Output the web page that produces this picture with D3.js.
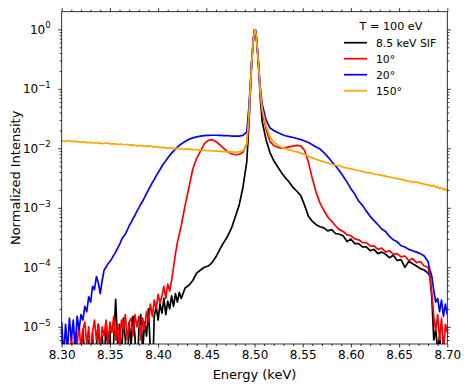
<!DOCTYPE html>
<html>
<head>
<meta charset="utf-8">
<script src="https://cdn.jsdelivr.net/npm/d3@7"></script>
<style>
  body { margin: 0; background: #fff; }
  svg { display: block; font-family: "DejaVu Sans", sans-serif; }
</style>
</head>
<body>
<svg id="chart" width="469" height="389"></svg>
<script>
// energy grid (keV) shared by all spectra, finer where the data is noisy
const energy = [
  8.300,8.302,8.304,8.306,8.308,8.310,8.312,8.314,8.316,8.318,
  8.320,8.322,8.324,8.326,8.328,8.330,8.332,8.334,8.336,8.338,
  8.340,8.342,8.344,8.346,8.348,8.350,8.352,8.354,8.356,8.358,
  8.360,8.362,8.364,8.366,8.368,8.370,8.372,8.374,8.376,8.378,
  8.380,8.382,8.384,8.386,8.388,8.390,8.392,8.394,8.396,8.398,
  8.400,8.402,8.404,8.406,8.408,8.410,8.412,8.414,8.416,8.418,
  8.420,8.422,8.424,
  8.428,8.432,8.436,8.440,8.444,8.448,8.452,8.456,
  8.460,8.464,8.468,8.472,8.476,8.480,8.484,8.488,
  8.492,8.494,8.496,8.497,8.498,8.499,8.500,8.501,8.502,8.503,8.504,8.505,8.506,
  8.508,8.512,8.516,8.520,8.524,8.528,8.532,8.536,
  8.540,8.544,8.548,8.552,8.556,8.560,8.564,8.568,
  8.572,8.576,8.580,8.584,8.588,8.592,8.596,8.600,
  8.604,8.608,8.612,8.616,8.620,8.624,8.628,8.632,
  8.636,8.640,8.644,8.648,8.652,8.656,8.660,8.664,
  8.668,8.672,8.676,8.680,
  8.682,8.684,8.686,8.688,8.690,8.692,8.694,8.696,8.698,8.700
]

// 8.5 keV SIF (black)
const sif85 = [
  1e-6,1e-6,1e-6,1e-6,1e-6,1e-6,1e-6,1e-6,2e-6,1e-6,
  4e-6,9e-6,3e-6,1e-6,6e-6,2e-6,8e-6,1e-6,5e-6,1.1e-5,
  3e-6,7e-6,2e-6,1.2e-5,4e-6,9e-6,1e-6,6e-6,2.9e-5,5e-6,
  1.1e-5,3e-6,1.4e-5,6e-6,2e-6,1.2e-5,5e-6,1.5e-5,7e-6,1e-6,
  9e-6,1.6e-5,4e-6,1.2e-5,7e-6,2e-5,4e-6,1e-6,1.5e-5,2.2e-5,
  1.3e-5,2.4e-5,1.7e-5,3e-5,1.6e-5,2.7e-5,2e-5,3.3e-5,2.2e-5,3.6e-5,
  2.6e-5,3.8e-5,3e-5,
  4.5e-5,5e-5,6e-5,8e-5,9e-5,1e-4,1.05e-4,1.2e-4,
  1.5e-4,2e-4,2.6e-4,3.3e-4,4.5e-4,7e-4,1.1e-3,2.2e-3,
  6e-3,0.022,0.11,0.26,0.45,0.72,0.98,0.97,0.72,0.45,0.27,0.14,0.07,
  0.028,0.014,0.0085,0.0062,0.0049,0.0039,0.0032,0.0027,
  0.0022,0.0019,0.0016,0.0011,0.00072,0.00059,0.00052,0.00048,
  0.00046,0.00041,0.00043,0.00037,0.00036,0.00034,0.00027,0.00030,
  0.00025,0.00025,0.00022,0.00022,0.00019,0.00020,0.00017,0.00018,
  0.000165,0.000145,0.00016,0.00013,0.000135,0.0001,0.000125,0.000115,
  0.000105,0.000095,0.00009,0.00008,
  7e-5,3e-5,6e-6,9e-6,4e-6,7e-6,3e-6,6e-6,4e-6,5e-6
]

// 10 degrees (red)
const deg10 = [
  1e-6,1e-6,1e-6,1e-6,2e-6,7e-6,3e-6,8e-6,5e-6,1.1e-5,
  4e-6,9e-6,1.2e-5,5e-6,1e-5,3e-6,8e-6,1.3e-5,6e-6,1.1e-5,
  4e-6,1e-5,7e-6,1.3e-5,5e-6,1.2e-5,8e-6,1.5e-5,6e-6,1.1e-5,
  4e-6,1.3e-5,9e-6,1.6e-5,6e-6,1.2e-5,1.4e-5,7e-6,1.6e-5,1e-5,
  1.5e-5,6e-6,1.4e-5,9e-6,1.8e-5,1.2e-5,2.4e-5,1.5e-5,2.8e-5,2e-5,
  3.5e-5,2.5e-5,3.3e-5,4.8e-5,3e-5,5.2e-5,4e-5,6e-5,1e-4,1.7e-4,
  2.6e-4,3.6e-4,5e-4,
  1.1e-3,2.2e-3,4.5e-3,6.8e-3,9e-3,1.2e-2,1.36e-2,1.4e-2,
  1.3e-2,1.15e-2,1.0e-2,8.8e-3,8.1e-3,7.8e-3,7.9e-3,8.6e-3,
  0.012,0.035,0.13,0.27,0.45,0.72,0.98,0.97,0.72,0.46,0.28,0.16,0.085,
  0.042,0.021,0.0130,0.0112,0.0104,0.0101,0.0103,0.0106,
  0.0109,0.0112,0.0110,0.0092,0.0058,0.0031,0.0018,0.0012,
  0.0009,0.0007,0.0006,0.0005,0.00043,0.00040,0.00035,0.00034,
  0.00030,0.00029,0.00026,0.00026,0.00023,0.00023,0.00020,0.00021,
  0.00018,0.00019,0.000165,0.00017,0.00015,0.000155,0.00013,0.00014,
  0.00012,0.000125,0.000105,0.0001,
  7e-5,3.5e-5,1.5e-5,8.5e-6,1.6e-5,6e-6,1.4e-5,4e-6,1.1e-5,8e-6
]

// 20 degrees (blue)
const deg20 = [
  1.2e-5,3e-6,1.1e-5,4e-6,1.4e-5,6e-6,1.3e-5,4e-6,1.5e-5,9e-6,
  1.6e-5,1.3e-5,2.2e-5,1.8e-5,3.2e-5,2.6e-5,4.8e-5,4.2e-5,7e-5,5.5e-5,
  3.6e-5,6e-5,9e-5,1e-4,1.15e-4,1.25e-4,1.4e-4,1.6e-4,1.8e-4,2.1e-4,
  2.4e-4,2.9e-4,3.3e-4,3.6e-4,4.2e-4,5e-4,5.7e-4,6.6e-4,7.5e-4,8.8e-4,
  1e-3,1.15e-3,1.3e-3,1.5e-3,1.75e-3,2e-3,2.3e-3,2.65e-3,3e-3,3.45e-3,
  3.9e-3,4.4e-3,5e-3,5.6e-3,6.2e-3,6.9e-3,7.6e-3,8.3e-3,9e-3,9.8e-3,
  1.05e-2,1.12e-2,1.18e-2,
  1.3e-2,1.42e-2,1.5e-2,1.56e-2,1.6e-2,1.63e-2,1.65e-2,1.66e-2,
  1.66e-2,1.65e-2,1.64e-2,1.63e-2,1.61e-2,1.6e-2,1.6e-2,1.65e-2,
  0.019,0.045,0.14,0.28,0.46,0.73,0.98,0.97,0.73,0.47,0.29,0.17,0.105,
  0.055,0.030,0.022,0.020,0.0185,0.0172,0.0163,0.0157,
  0.0152,0.0146,0.0140,0.0133,0.0125,0.0115,0.0105,0.0097,
  0.0085,0.0072,0.0060,0.0051,0.0042,0.0034,0.0027,0.0021,
  0.0017,0.0013,0.0011,0.00088,0.00072,0.00061,0.00052,0.00044,
  0.0004,0.00033,0.00029,0.00027,0.00023,0.00022,0.0002,0.00019,
  0.00018,0.00017,0.000155,0.000125,
  9e-5,7e-5,4e-5,2.6e-5,3e-5,1.8e-5,2.8e-5,1.5e-5,2.4e-5,1.6e-5
]

// 150 degrees (orange)
const deg150 = [
  0.0134,0.0132,0.0131,0.0134,0.0133,0.0130,0.0130,0.0132,0.0129,0.0128,
  0.0127,0.0129,0.0128,0.0125,0.0125,0.0126,0.0124,0.0123,0.0125,0.0122,
  0.0122,0.0120,0.0121,0.0123,0.0122,0.0119,0.0119,0.0120,0.0118,0.0116,
  0.0117,0.0118,0.0116,0.0115,0.0117,0.0114,0.0113,0.0114,0.0112,0.0110,
  0.0111,0.0112,0.0110,0.0108,0.0108,0.0110,0.0109,0.0106,0.0106,0.0107,
  0.0105,0.0103,0.0104,0.0104,0.0102,0.0101,0.0103,0.0101,0.0100,0.0099,
  0.0100,0.0099,0.0098,
  0.0097,0.0097,0.0095,0.0095,0.0093,0.0092,0.0091,0.0091,
  0.0090,0.0089,0.0088,0.0087,0.0087,0.0086,0.0087,0.0091,
  0.0115,0.032,0.13,0.27,0.45,0.72,0.98,0.97,0.72,0.46,0.28,0.16,0.09,
  0.045,0.024,0.0155,0.0128,0.0113,0.0104,0.0099,0.0094,
  0.0090,0.0087,0.0083,0.0079,0.0073,0.0069,0.0065,0.0062,
  0.0059,0.0057,0.0054,0.0052,0.0051,0.0048,0.0047,0.0045,
  0.0044,0.0042,0.0041,0.0039,0.0039,0.0037,0.0036,0.0035,
  0.0034,0.0033,0.0032,0.0031,0.0030,0.0029,0.0028,0.0027,
  0.0027,0.0026,0.0025,0.0024,
  0.0024,0.0023,0.0024,0.0022,0.0023,0.0021,0.0022,0.0020,0.0021,0.0019
]

const seriesNames = ['8.5 keV SIF', '10°', '20°', '150°']
const seriesColors = ['#000000', '#ff0000', '#0000ff', '#ffa500']
const legendTitle = 'T = 100 eV'
const xTicks = [8.30, 8.35, 8.40, 8.45, 8.50, 8.55, 8.60, 8.65, 8.70]
const yTickExps = [-5, -4, -3, -2, -1, 0]
const xLabel = 'Energy (keV)'
const yLabel = 'Normalized Intensity'

const W = 469, H = 389
const margin = { left: 61.7, top: 11.7, right: 21.7, bottom: 45 }

const svg = d3.select('#chart')

const x = d3.scaleLinear().domain([8.30, 8.70]).range([margin.left, W - margin.right])
const y = d3.scaleLog().domain([5.14e-6, 1.98]).range([H - margin.bottom, margin.top])

svg.append('defs').append('clipPath').attr('id', 'plotclip')
  .append('rect')
    .attr('x', margin.left).attr('y', margin.top)
    .attr('width', W - margin.left - margin.right)
    .attr('height', H - margin.top - margin.bottom)

// spectra, drawn in legend order so orange ends up on top
const line = d3.line().x(d => x(d[0])).y(d => y(d[1]))
const allSeries = [sif85, deg10, deg20, deg150]

svg.append('g').attr('clip-path', 'url(#plotclip)')
  .selectAll('path')
  .data(allSeries)
  .join('path')
    .attr('d', s => line(energy.map((e, i) => [e, s[i]]).filter(d => d[1] != null)))
    .attr('fill', 'none')
    .attr('stroke', (d, i) => seriesColors[i])
    .attr('stroke-width', 1.7)
    .attr('stroke-linejoin', 'round')

// axes, ticks outward on all four sides
const xMinor = d3.range(0, 41).map(i => 8.30 + i * 0.01).filter(v => Math.abs(Math.round(v * 20) - v * 20) > 1e-6)
const yMajor = yTickExps.map(k => Math.pow(10, k))
const yMinor = y.ticks().filter(v => Math.abs(Math.log10(v) - Math.round(Math.log10(v))) > 1e-6)

function styleAxis(g) {
  g.select('.domain').remove()
  g.selectAll('line').attr('stroke', '#000').attr('stroke-width', 0.8)
}

const bottomY = H - margin.bottom, rightX = W - margin.right

const gx = svg.append('g').attr('transform', `translate(0,${bottomY})`)
  .call(d3.axisBottom(x).tickValues(xTicks).tickFormat(d3.format('.2f')).tickSize(3.5).tickPadding(3))
  .call(styleAxis)
gx.selectAll('text').attr('font-size', 12).attr('fill', '#000').attr('font-family', 'DejaVu Sans')
svg.append('g').attr('transform', `translate(0,${bottomY})`)
  .call(d3.axisBottom(x).tickValues(xMinor).tickFormat('').tickSize(2)).call(styleAxis)

svg.append('g').attr('transform', `translate(0,${margin.top})`)
  .call(d3.axisTop(x).tickValues(xTicks).tickFormat('').tickSize(3.5)).call(styleAxis)
svg.append('g').attr('transform', `translate(0,${margin.top})`)
  .call(d3.axisTop(x).tickValues(xMinor).tickFormat('').tickSize(2)).call(styleAxis)

svg.append('g').attr('transform', `translate(${margin.left},0)`)
  .call(d3.axisLeft(y).tickValues(yMajor).tickFormat('').tickSize(3.5)).call(styleAxis)
svg.append('g').attr('transform', `translate(${margin.left},0)`)
  .call(d3.axisLeft(y).tickValues(yMinor).tickFormat('').tickSize(2)).call(styleAxis)

svg.append('g').attr('transform', `translate(${rightX},0)`)
  .call(d3.axisRight(y).tickValues(yMajor).tickFormat('').tickSize(3.5)).call(styleAxis)
svg.append('g').attr('transform', `translate(${rightX},0)`)
  .call(d3.axisRight(y).tickValues(yMinor).tickFormat('').tickSize(2)).call(styleAxis)

// 10^k labels with superscript
const ylab = svg.append('g').selectAll('text')
  .data(yTickExps)
  .join('text')
    .attr('x', margin.left - 11)
    .attr('y', k => y(Math.pow(10, k)) + 4.5)
    .attr('text-anchor', 'end')
    .attr('font-size', 12)
    .attr('fill', '#000')
ylab.append('tspan').text('10')
ylab.append('tspan')
  .attr('dy', -5.5)
  .attr('font-size', 8.5)
  .text(k => k < 0 ? '\u2212' + (-k) : String(k))

// frame
svg.append('rect')
  .attr('x', margin.left).attr('y', margin.top)
  .attr('width', rightX - margin.left).attr('height', bottomY - margin.top)
  .attr('fill', 'none').attr('stroke', '#000').attr('stroke-width', 0.8)

// axis titles
svg.append('text')
  .attr('x', (margin.left + rightX) / 2).attr('y', 379)
  .attr('text-anchor', 'middle').attr('font-size', 13).attr('fill', '#000')
  .text(xLabel)
svg.append('text')
  .attr('transform', `translate(20,${(margin.top + bottomY) / 2}) rotate(-90)`)
  .attr('text-anchor', 'middle').attr('font-size', 13).attr('fill', '#000')
  .text(yLabel)

// legend (no frame)
const leg = svg.append('g')
leg.append('text')
  .attr('x', 391).attr('y', 30)
  .attr('text-anchor', 'middle').attr('font-size', 11.2).attr('fill', '#000')
  .text(legendTitle)
const item = leg.selectAll('g.item')
  .data(seriesNames)
  .join('g').attr('class', 'item')
  .attr('transform', (d, i) => `translate(0,${42.7 + i * 16})`)
item.append('line')
  .attr('x1', 344).attr('x2', 367)
  .attr('stroke', (d, i) => seriesColors[i]).attr('stroke-width', 1.7)
item.append('text')
  .attr('x', 376).attr('y', 4)
  .attr('font-size', 10.8).attr('fill', '#000')
  .text(d => d)
</script>
</body>
</html>
